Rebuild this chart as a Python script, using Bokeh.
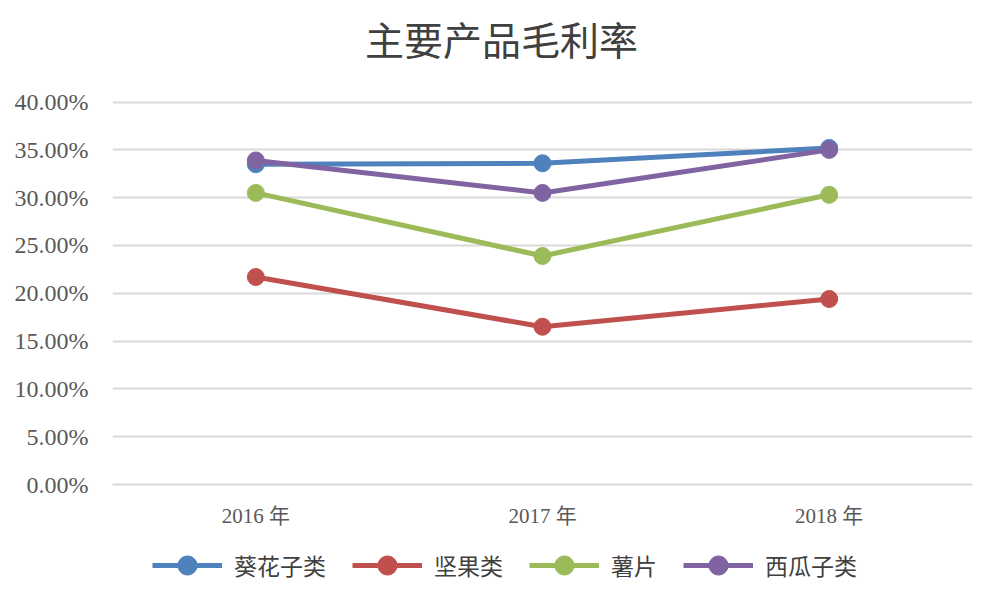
from bokeh.plotting import figure
from bokeh.layouts import column
from bokeh.models import FixedTicker, NumeralTickFormatter, Legend, LegendItem, Range1d, Label
from bokeh.embed import file_html
from bokeh.resources import INLINE

title_text = "主要产品毛利率"
years = ["2016 年", "2017 年", "2018 年"]
series_names = ["葵花子类", "坚果类", "薯片", "西瓜子类"]
sunflower = [0.335, 0.336, 0.352]
nuts = [0.217, 0.165, 0.194]
chips = [0.305, 0.239, 0.303]
watermelon = [0.339, 0.305, 0.350]
y_ticks = [0.0, 0.05, 0.10, 0.15, 0.20, 0.25, 0.30, 0.35, 0.40]
colors = ["#4F81BD", "#C0504D", "#9BBB59", "#8064A2"]
all_series = [sunflower, nuts, chips, watermelon]

# frame spans from the canvas top; the extra range above 40% holds the title
Y_TOP = 0.4 * 486 / 384
p = figure(width=999, height=530, x_range=years, y_range=Range1d(0, Y_TOP),
           output_backend="svg", toolbar_location=None,
           min_border_left=112, min_border_right=27, min_border_top=0, min_border_bottom=44)
p.outline_line_color = None
p.background_fill_color = "white"
p.border_fill_color = "white"

p.add_layout(Label(x=(501 - 112) / 860 * 3, y=(486 - 38) / 960, text=title_text,
                   text_font="Noto Sans CJK SC", text_font_size="39px",
                   text_color="#404040", text_align="center", text_baseline="middle"))

p.yaxis.ticker = FixedTicker(ticks=y_ticks)
p.yaxis.formatter = NumeralTickFormatter(format="0.00%")
p.yaxis.axis_line_color = None
p.yaxis.major_tick_line_color = None
p.yaxis.minor_tick_line_color = None
p.yaxis.major_tick_out = 0
p.yaxis.major_label_text_font = "Liberation Serif"
p.yaxis.major_label_text_font_size = "24px"
p.yaxis.major_label_text_color = "#595959"
p.yaxis.major_label_standoff = 24

p.xaxis.axis_line_color = "#D9D9D9"
p.xaxis.axis_line_width = 2
p.xaxis.major_tick_line_color = None
p.xaxis.minor_tick_line_color = None
p.xaxis.major_label_text_font = "Liberation Serif, Noto Sans CJK SC"
p.xaxis.major_label_text_font_size = "21px"
p.xaxis.major_label_text_color = "#595959"
p.xaxis.major_label_standoff = 13

p.xgrid.grid_line_color = None
p.ygrid.grid_line_color = "#D9D9D9"
p.ygrid.grid_line_width = 2

for vals, c in zip(all_series, colors):
    p.line(years, vals, line_color=c, line_width=5)
    p.scatter(years, vals, size=17, fill_color=c, line_color=c)

# legend strip below the chart (series drawn out of view, only legend glyphs show)
lf = figure(width=999, height=69, x_range=years, y_range=Range1d(10, 11),
            output_backend="svg", toolbar_location=None,
            min_border_left=0, min_border_right=0, min_border_top=0, min_border_bottom=0)
lf.axis.visible = False
lf.grid.visible = False
lf.outline_line_color = None
lf.border_fill_color = "white"
items = []
for name, vals, c in zip(series_names, all_series, colors):
    l = lf.line(years, vals, line_color=c, line_width=5)
    s = lf.scatter(years, vals, size=17, fill_color=c, line_color=c)
    items.append(LegendItem(label=name, renderers=[l, s]))

legend = Legend(items=items, orientation="horizontal", location=(40, 10),
                label_text_font="Noto Sans CJK SC", label_text_font_size="23px",
                label_text_color="#404040", glyph_width=70, glyph_height=48,
                label_height=48, spacing=26, border_line_color=None,
                background_fill_alpha=0, margin=0, padding=0, label_standoff=12)
lf.add_layout(legend, "center")

layout = column(p, lf, spacing=0)
open("out.html", "w").write(file_html(layout, INLINE))
